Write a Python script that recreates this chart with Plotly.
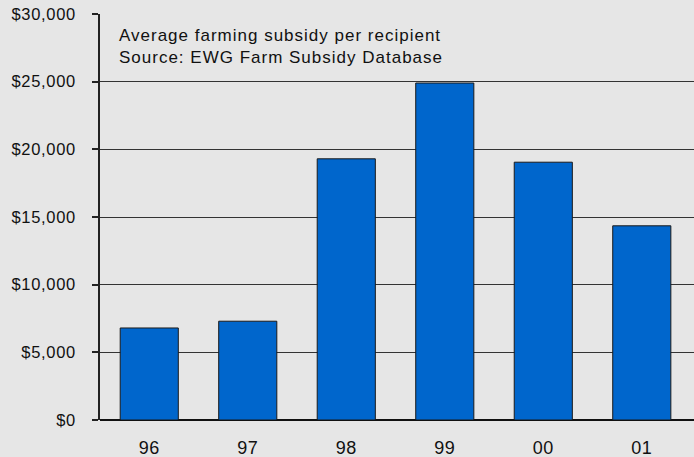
import plotly.graph_objects as go

years = ["96", "97", "98", "99", "00", "01"]
avg_subsidy = [6800, 7300, 19300, 24900, 19050, 14350]
y_ticks = [0, 5000, 10000, 15000, 20000, 25000, 30000]
y_tick_labels = ["$0", "$5,000", "$10,000", "$15,000", "$20,000", "$25,000", "$30,000"]
note_lines = ["Average farming subsidy per recipient", "Source: EWG Farm Subsidy Database"]

bg = "#e6e6e6"
font_family = "Liberation Sans, Arial, Helvetica, sans-serif"


def spaced(text, px):
    return f'<span style="letter-spacing:{px}px">{text}</span>'


fig = go.Figure(
    go.Bar(
        x=list(range(len(years))),
        y=avg_subsidy,
        marker=dict(color="#0066cc", line=dict(color="#1a1a1a", width=1)),
        width=0.59,
    )
)

fig.add_annotation(
    x=0, y=1, xref="paper", yref="paper",
    xanchor="left", yanchor="top", xshift=17, yshift=-10,
    text="<br>".join(spaced(t, 1) for t in note_lines), showarrow=False, align="left",
    font=dict(family=font_family, size=17, color="#111111"),
)

fig.update_layout(
    width=694, height=457,
    margin=dict(l=100, r=0, t=14, b=37),
    paper_bgcolor=bg, plot_bgcolor=bg,
    showlegend=False,
    font=dict(family=font_family, size=16, color="#111111"),
    xaxis=dict(
        tickmode="array", tickvals=list(range(len(years))),
        ticktext=[spaced(t, 0.5) for t in years],
        range=[-0.5, 5.53], showgrid=False, zeroline=False,
        showline=False, ticks="", tickfont=dict(size=18),
        ticklabelstandoff=15,
    ),
    yaxis=dict(
        tickmode="array", tickvals=y_ticks,
        ticktext=[spaced(t, 0.7) for t in y_tick_labels],
        range=[0, 30000], showgrid=True, gridcolor="#333333", gridwidth=1,
        zeroline=True, zerolinecolor="#111111", zerolinewidth=1.5,
        showline=True, linecolor="#222222", linewidth=1.5,
        ticks="outside", ticklen=6, tickcolor="#222222", tickwidth=1.5,
        ticklabelstandoff=13, tickfont=dict(size=16.5),
    ),
)

fig.write_html("out.html")
